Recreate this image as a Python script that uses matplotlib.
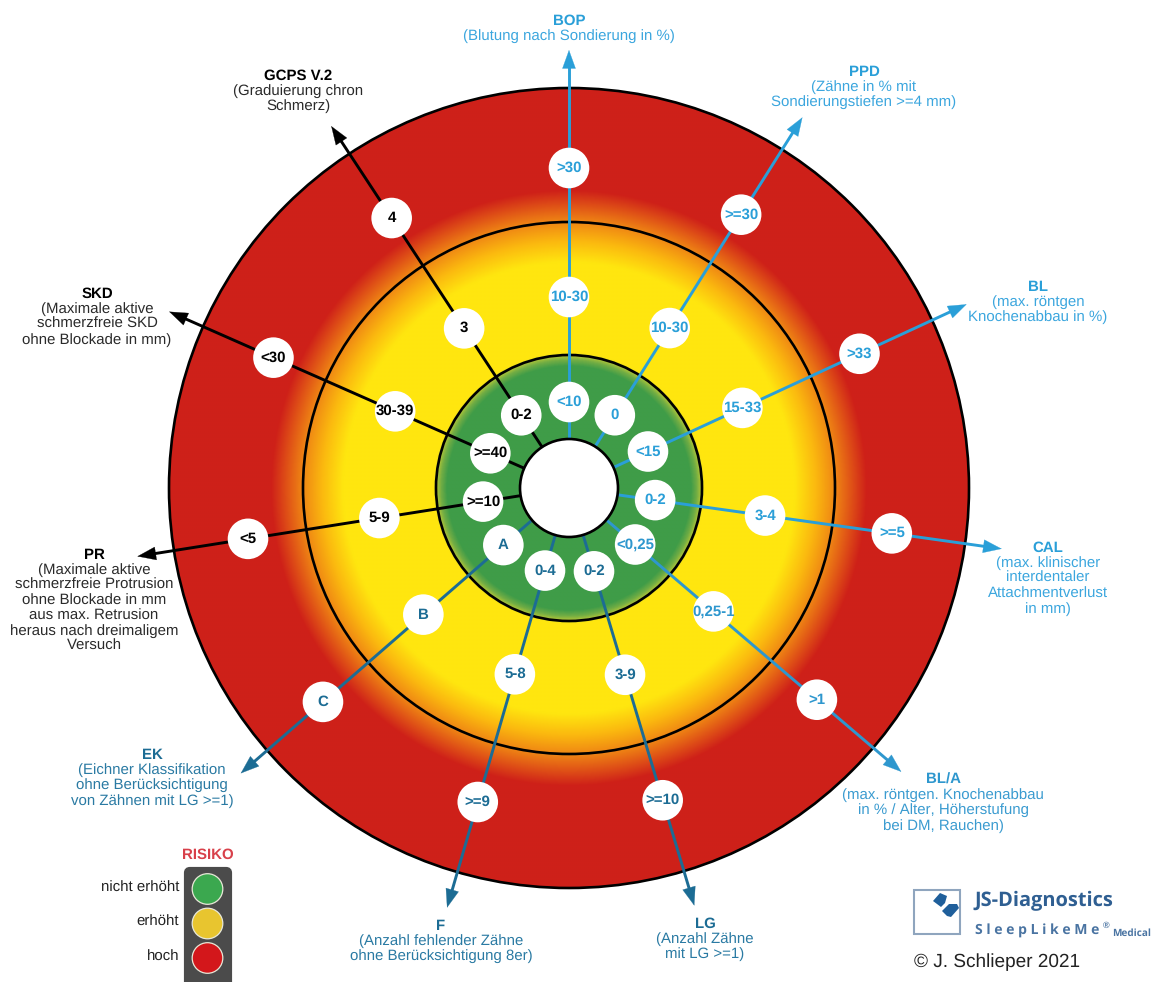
import numpy as np
import matplotlib
matplotlib.use("Agg")
import matplotlib.pyplot as plt
from matplotlib.patches import Circle, FancyArrowPatch, FancyBboxPatch, Rectangle, Polygon
from matplotlib.colors import LinearSegmentedColormap

plt.rcParams['font.family'] = ['Liberation Sans', 'DejaVu Sans']
plt.rcParams['text.hinting'] = 'no_hinting'
plt.rcParams['text.hinting_factor'] = 1

# ---- data ----
spoke_titles = ["BOP", "PPD", "BL", "CAL", "BL/A", "LG", "F", "EK", "PR", "SKD", "GCPS V.2"]
spoke_notes = [
    ["(Blutung nach Sondierung in %)"],
    ["(Zähne in % mit", "Sondierungstiefen >=4 mm)"],
    ["(max. röntgen", "Knochenabbau in %)"],
    ["(max. klinischer", "interdentaler", "Attachmentverlust", "in mm)"],
    ["(max. röntgen. Knochenabbau", "in % / Alter, Höherstufung", "bei DM, Rauchen)"],
    ["(Anzahl Zähne", "mit LG >=1)"],
    ["(Anzahl fehlender Zähne", "ohne Berücksichtigung 8er)"],
    ["(Eichner Klassifikation", "ohne Berücksichtigung", "von Zähnen mit LG >=1)"],
    ["(Maximale aktive", "schmerzfreie Protrusion", "ohne Blockade in mm", "aus max. Retrusion", "heraus nach dreimaligem", "Versuch"],
    ["(Maximale aktive", "schmerzfreie SKD", "ohne Blockade in mm)"],
    ["(Graduierung chron", "Schmerz)"],
]
low_labels = ["<10", "0", "<15", "0-2", "<0,25", "0-2", "0-4", "A", ">=10", ">=40", "0-2"]
mid_labels = ["10-30", "10-30", "15-33", "3-4", "0,25-1", "3-9", "5-8", "B", "5-9", "30-39", "3"]
high_labels = [">30", ">=30", ">33", ">=5", ">1", ">=10", ">=9", "C", "<5", "<30", "4"]

# angle clockwise from north (deg) and radial distance of each node
spoke_angle = [0, 32.2, 65.2, 98, 130.5, 163.3, 196.2, 229, 261, 293.8, 326.7]
low_radius = [86, 86, 87, 87, 87, 87, 86, 87, 87, 86, 87]
mid_radius = [191, 189, 191, 198, 190, 195, 194, 193, 192, 190, 191]
high_radius = [320, 323, 320, 326, 326, 326, 327, 326, 325, 323, 323]
tip_radius = [438, 438, 438, 437, 437, 436, 437, 435, 437, 437, 433]

risk_levels = ["nicht erhöht", "erhöht", "hoch"]
risk_colors = ["#3BA84F", "#E8C52F", "#D3171B"]

# ---- styles / layout ----
LIGHT, MID, DARK, BLK = "#2A9FD8", "#2E97CE", "#1C6C94", "#000000"
spoke_color = [LIGHT, LIGHT, LIGHT, LIGHT, MID, DARK, DARK, DARK, BLK, BLK, BLK]
note_color = ["#3BA6DE"] * 4 + ["#3A9BD0"] + ["#2A7AA3"] * 3 + ["#2a2a2a"] * 3
label_x = [569, 864, 1038, 1048, 943, 705, 441, 152, 94, 97, 298]
label_y = [21, 72, 287, 548, 780, 924, 926, 755, 555, 294, 76]
CX, CY = 569, 488
R_OUT, R_MID, R_IN, R_HOLE, R_NODE = 400, 266, 133, 49, 20.3
FS = 10.6

fig = plt.figure(figsize=(11.53, 9.82), dpi=100, facecolor="white")
ax = fig.add_axes([0, 0, 1, 1])
ax.set_xlim(0, 1153)
ax.set_ylim(982, 0)
ax.axis("off")


def polar(angle, r):
    a = np.deg2rad(angle)
    return CX + r * np.sin(a), CY - r * np.cos(a)


# radial risk field
stops_r = [0, 122, 128, 133, 135, 226, 247, 267, 285, 298, R_OUT]
stops_c = ["#3F9C48", "#3F9C48", "#72AD44", "#B9C936", "#FFE60F", "#FFE60F", "#FBB90F",
           "#EF8514", "#DD4A17", "#CE2019", "#CE2019"]
cmap = LinearSegmentedColormap.from_list("risk", [(r / R_OUT, c) for r, c in zip(stops_r, stops_c)], N=1024)
grid = np.linspace(-R_OUT, R_OUT, 1000)
gx, gy = np.meshgrid(grid, grid)
im = ax.imshow(np.hypot(gx, gy), extent=(CX - R_OUT, CX + R_OUT, CY + R_OUT, CY - R_OUT),
               cmap=cmap, vmin=0, vmax=R_OUT, zorder=1, interpolation="bilinear", aspect="auto")
im.set_clip_path(Circle((CX, CY), R_OUT, transform=ax.transData))
ax.set_xlim(0, 1153)
ax.set_ylim(982, 0)

for r in (R_OUT, R_MID, R_IN):
    ax.add_patch(Circle((CX, CY), r, fc="none", ec="black", lw=1.9, zorder=2))

for i, title in enumerate(spoke_titles):
    ang, col = spoke_angle[i], spoke_color[i]
    start = polar(ang, R_HOLE)
    neck = polar(ang, tip_radius[i] - 14)
    tip = polar(ang, tip_radius[i])
    head_base = polar(ang, tip_radius[i] - 18)
    ax.plot([start[0], neck[0]], [start[1], neck[1]], color=col, lw=2.1,
            solid_capstyle="butt", zorder=3)
    ax.add_patch(FancyArrowPatch(head_base, tip, arrowstyle="-|>,head_length=13,head_width=4.7",
                                 mutation_scale=1, shrinkA=0, shrinkB=0, lw=0.2,
                                 color=col, zorder=3))
    for rad, lab in zip((low_radius[i], mid_radius[i], high_radius[i]),
                        (low_labels[i], mid_labels[i], high_labels[i])):
        x, y = polar(ang, rad)
        ax.add_patch(Circle((x, y), R_NODE, fc="white", ec="none", zorder=4))
        ax.text(x, y, lab, ha="center", va="center", fontsize=FS, fontweight="bold",
                color=col, zorder=5)
    ax.text(label_x[i], label_y[i], title, ha="center", va="center", fontsize=FS,
            fontweight="bold", color=col, zorder=5)
    for j, line in enumerate(spoke_notes[i]):
        ax.text(label_x[i], label_y[i] + 15.2 * (j + 1), line, ha="center", va="center",
                fontsize=FS, color=note_color[i], zorder=5)

ax.add_patch(Circle((CX, CY), R_HOLE, fc="white", ec="black", lw=1.9, zorder=6))

# traffic light
ax.text(207.5, 855, "RISIKO", ha="center", va="center", fontsize=FS, fontweight="bold", color="#D8404A")
ax.add_patch(FancyBboxPatch((186, 869), 44, 120, boxstyle="round,pad=0,rounding_size=4",
                            mutation_scale=1, fc="#4B4B4B", ec="#4B4B4B", lw=3, zorder=2))
for k, (lev, col) in enumerate(zip(risk_levels, risk_colors)):
    y = 889 + 34.5 * k
    ax.add_patch(Circle((207.5, y), 15.3, fc=col, ec="#E8E8D8", lw=0.9, zorder=3))
    ax.text(179, y - 1.5, lev, ha="right", va="center", fontsize=FS, color="#222222")

# logo
ax.add_patch(Rectangle((914, 890), 46, 44, fc="white", ec="#8FA5BE", lw=1.5))
ax.add_patch(Polygon([(933, 901), (940, 893), (947, 896), (945, 903), (941, 907)],
                     closed=True, fc="#1F5F9B", ec="none"))
ax.add_patch(Polygon([(942, 911), (949, 904), (957, 904), (959, 908), (951, 917), (947, 916)],
                     closed=True, fc="#1F5F9B", ec="none"))
ax.text(974, 901, "JS-Diagnostics", ha="left", va="center", fontsize=14.7, fontweight="bold",
        family="Open Sans", color="#2F5F92")
ax.text(975, 931, "S l e e p L i k e M e", ha="left", va="center", fontsize=9.9, fontweight="bold",
        family="Open Sans", color="#4A74A2")
ax.text(1103, 926, "®", ha="left", va="center", fontsize=6.5, fontweight="bold", color="#4A74A2")
ax.text(1112, 933, "Medical", ha="left", va="center", fontsize=7.2, fontweight="bold",
        family="Open Sans", color="#4A74A2")
ax.text(914, 962, "© J. Schlieper 2021", ha="left", va="center", fontsize=14, color="#222222")

fig.savefig("out.png", dpi=100, facecolor="white")
